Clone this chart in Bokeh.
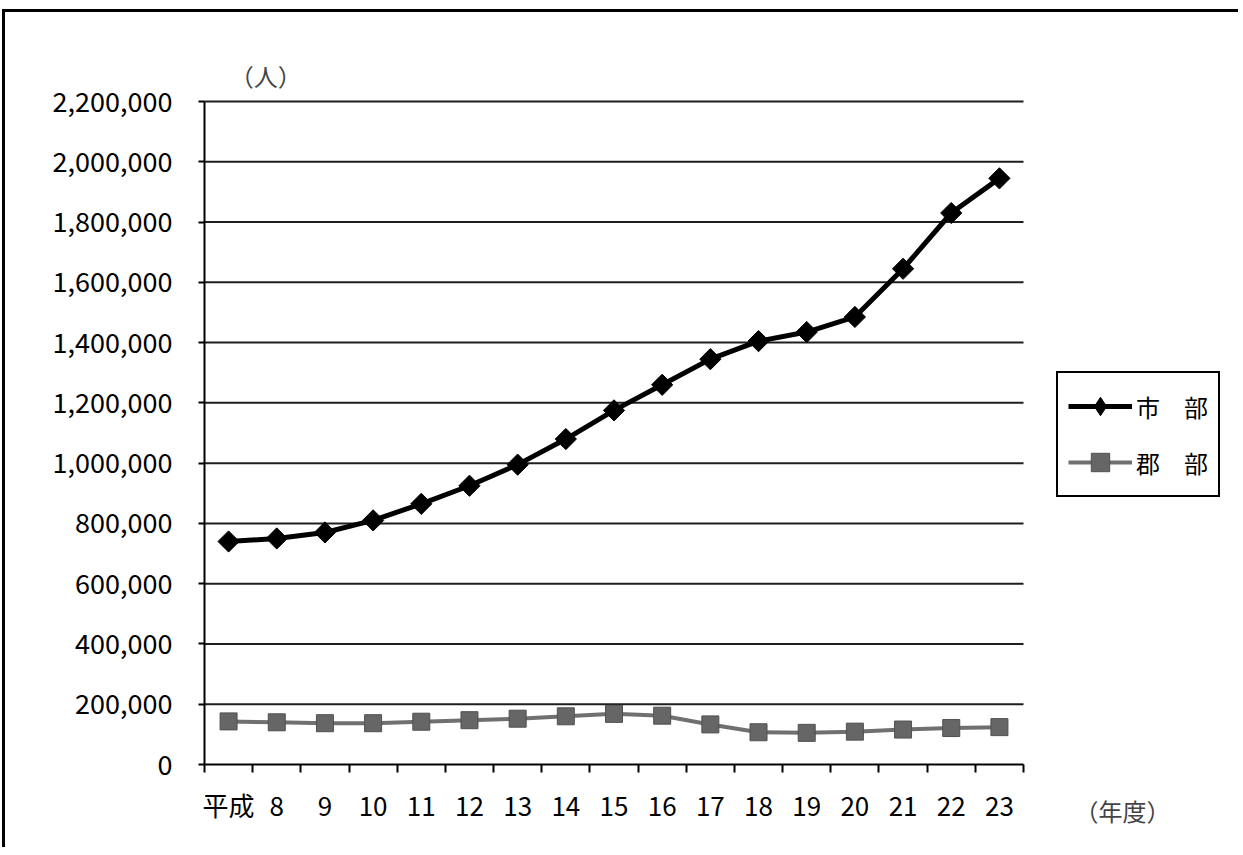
import numpy as np
from bokeh.plotting import figure
from bokeh.models import (ColumnDataSource, FixedTicker, NumeralTickFormatter, Legend,
                          LegendItem, Label, Range1d)
from bokeh.embed import file_html
from bokeh.resources import INLINE

# ---- data ----
year_labels = ["平成", "8", "9", "10", "11", "12", "13", "14", "15", "16",
               "17", "18", "19", "20", "21", "22", "23"]
shibu = [740000, 750000, 770000, 810000, 865000, 925000, 995000, 1080000, 1175000,
         1260000, 1345000, 1405000, 1435000, 1485000, 1645000, 1830000, 1945000]
gunbu = [143000, 140000, 137000, 137000, 142000, 147000, 152000, 160000, 168000,
         162000, 133000, 107000, 105000, 109000, 116000, 121000, 124000]
y_ticks = list(range(0, 2200001, 200000))
series_names = ["市　部", "郡　部"]
y_unit_label = "（人）"
x_unit_label = "（年度）"

FONT = "Noto Sans CJK JP"
n = len(year_labels)
xs = list(range(n))
y_max = y_ticks[-1]

# ---- layout geometry (pixels) ----
W, H = 1236, 838
canvas_x0, canvas_y0 = 5, 12          # canvas top-left on the page
plot_l, plot_r, plot_t, plot_b = 204, 1023, 101, 764   # plot area on the page
sx = (plot_r - plot_l) / n            # px per category
sy = (plot_b - plot_t) / y_max        # px per person
x_start = -0.5 - (plot_l - canvas_x0) / sx
x_end = x_start + W / sx
y_end = y_max + (plot_t - canvas_y0) / sy
y_start = y_end - H / sy

p = figure(width=W, height=H, output_backend="svg", toolbar_location=None,
           x_range=Range1d(x_start, x_end), y_range=Range1d(y_start, y_end),
           min_border=0)
p.styles = {"border-top": "3px solid #000", "border-left": "3px solid #000",
            "margin-top": "9px", "margin-left": "2px"}
p.outline_line_color = None
p.background_fill_color = "white"
p.border_fill_color = "white"
p.xgrid.visible = False
p.ygrid.visible = False

# horizontal gridlines over the plot area
grid_y = y_ticks[1:]
p.segment(x0=[-0.5] * len(grid_y), x1=[n - 0.5] * len(grid_y), y0=grid_y, y1=grid_y,
          line_color="#1e1e1e", line_width=2)

# x axis
xa = p.xaxis[0]
xa.fixed_location = 0
xa.bounds = (-0.5, n - 0.5)
xa.ticker = FixedTicker(ticks=xs, minor_ticks=[i - 0.5 for i in range(n + 1)])
xa.major_label_overrides = {i: lab for i, lab in enumerate(year_labels)}
xa.major_tick_out = 0
xa.major_tick_in = 0
xa.minor_tick_out = 8
xa.minor_tick_in = 0
xa.minor_tick_line_color = "black"
xa.minor_tick_line_width = 2
xa.axis_line_color = "black"
xa.axis_line_width = 2
xa.major_label_standoff = 13
xa.major_label_text_font = FONT
xa.major_label_text_font_size = "26px"
xa.major_label_text_color = "black"

# y axis
ya = p.yaxis[0]
ya.fixed_location = -0.5
ya.bounds = (0, y_max)
ya.ticker = FixedTicker(ticks=y_ticks)
ya.formatter = NumeralTickFormatter(format="0,0")
ya.major_tick_out = 6
ya.major_tick_in = 0
ya.minor_tick_line_color = None
ya.axis_line_color = "black"
ya.axis_line_width = 2
ya.major_tick_line_width = 2
ya.major_label_standoff = 26
ya.major_label_text_font = FONT
ya.major_label_text_font_size = "27px"
ya.major_label_text_color = "black"

src = ColumnDataSource(dict(x=xs, shibu=shibu, gunbu=gunbu))

l1 = p.line("x", "shibu", source=src, line_color="black", line_width=5)
# plain diamonds (hidden under the rotated squares) used for the legend symbol,
# since legend markers are drawn without rotation
lg1 = p.scatter("x", "shibu", source=src, marker="diamond", size=18,
                fill_color="black", line_color="black")
m1 = p.scatter("x", "shibu", source=src, marker="square", angle=np.pi / 4, size=15,
               fill_color="black", line_color="black")
l2 = p.line("x", "gunbu", source=src, line_color="#707070", line_width=4)
m2 = p.scatter("x", "gunbu", source=src, marker="square", size=17,
               fill_color="#666666", line_color="#505050")

legend = Legend(items=[LegendItem(label=series_names[0], renderers=[l1, lg1]),
                       LegendItem(label=series_names[1], renderers=[l2, m2])],
                location=(1056 - canvas_x0, (canvas_y0 + H) - 497),
                orientation="vertical")
legend.border_line_color = "black"
legend.border_line_width = 2
legend.border_line_alpha = 1.0
legend.background_fill_color = "white"
legend.background_fill_alpha = 1.0
legend.glyph_width = 64
legend.glyph_height = 46
legend.label_standoff = 4
legend.padding = 10
legend.spacing = 10
legend.margin = 0
legend.label_text_font = FONT
legend.label_text_font_size = "24px"
legend.label_text_color = "black"
p.add_layout(legend, "center")

p.add_layout(Label(x=0.77, y=y_max + (101 - 75) / sy, text=y_unit_label, text_font=FONT,
                   text_font_size="24px", text_align="center", text_baseline="middle"))
p.add_layout(Label(x=n - 0.5 + (1122 - plot_r) / sx, y=-(810 - plot_b) / sy,
                   text=x_unit_label, text_font=FONT,
                   text_font_size="24px", text_align="center", text_baseline="middle"))

open("out.html", "w").write(file_html(p, INLINE))
